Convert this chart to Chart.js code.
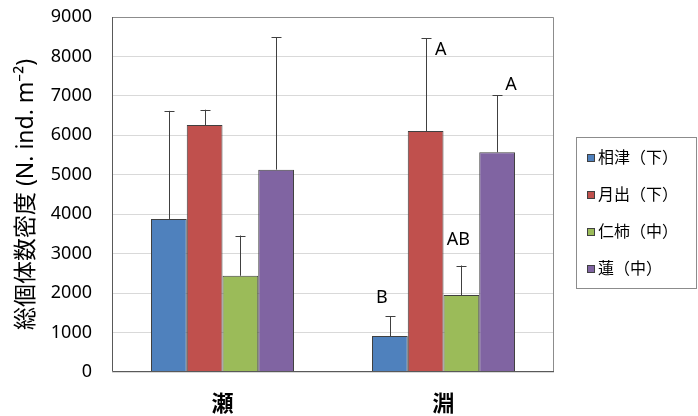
<!DOCTYPE html>
<html>
<head>
<meta charset="utf-8">
<script src="https://cdn.jsdelivr.net/npm/chart.js@4"></script>
<style>
  html, body { margin: 0; padding: 0; background: #fff; }
  #wrap { width: 698px; height: 416px; }
</style>
</head>
<body>
<div id="wrap"><canvas id="chart" width="698" height="416"></canvas></div>
<script>
// данные (читаются с картинки)
const categories = ['瀬', '淵'];
const seriesNames = ['相津（下）', '月出（下）', '仁柿（中）', '蓮（中）'];
const aizu    = [3880, 910];
const tsukide = [6260, 6110];
const nigaki  = [2440, 1950];
const hasu    = [5130, 5570];
// верхняя ошибка (SD)
const aizuErr    = [2740, 510];
const tsukideErr = [390, 2350];
const nigakiErr  = [1020, 750];
const hasuErr    = [3360, 1450];
// буквы значимости
const aizuSig    = ['', 'B'];
const tsukideSig = ['', 'A'];
const nigakiSig  = ['', 'AB'];
const hasuSig    = ['', 'A'];
const yTicks = [0, 1000, 2000, 3000, 4000, 5000, 6000, 7000, 8000, 9000];

const colors = ['#4f81bd', '#c0504d', '#9bbb59', '#8064a2'];
const values = [aizu, tsukide, nigaki, hasu];
const errors = [aizuErr, tsukideErr, nigakiErr, hasuErr];
const letters = [aizuSig, tsukideSig, nigakiSig, hasuSig];
// смещение букв от верха планки (px), как на оригинале
const letterShift = [[-8, -18], [15, 12], [-3, -26], [14, -10]];
const FONT = '"Noto Sans", "Noto Sans CJK JP", sans-serif';

const extras = {
  id: 'extras',
  afterDatasetsDraw(chart) {
    const ctx = chart.ctx;
    const y = chart.scales.y;
    const a = chart.chartArea;
    ctx.save();
    // рамка области графика
    ctx.lineWidth = 1;
    ctx.strokeStyle = '#8c8c8c';
    ctx.beginPath();
    ctx.moveTo(a.left, a.top + 0.5); ctx.lineTo(a.right - 0.5, a.top + 0.5); ctx.lineTo(a.right - 0.5, a.bottom);
    ctx.stroke();
    ctx.strokeStyle = '#595959';
    ctx.beginPath();
    ctx.moveTo(a.left + 0.5, a.top); ctx.lineTo(a.left + 0.5, a.bottom - 0.5); ctx.lineTo(a.right, a.bottom - 0.5);
    ctx.stroke();

    // планки погрешностей и буквы
    values.forEach((vals, d) => {
      const meta = chart.getDatasetMeta(d);
      meta.data.forEach((bar, i) => {
        const x = Math.round(bar.x) + 0.5;
        const top = y.getPixelForValue(vals[i] + errors[d][i]);
        ctx.strokeStyle = '#404040';
        ctx.beginPath();
        ctx.moveTo(x, bar.y); ctx.lineTo(x, top);
        ctx.moveTo(x - 5, Math.round(top) + 0.5); ctx.lineTo(x + 5, Math.round(top) + 0.5);
        ctx.stroke();
        const t = letters[d][i];
        if (t) {
          ctx.fillStyle = '#000';
          ctx.font = '18px ' + FONT;
          ctx.textAlign = 'center';
          ctx.textBaseline = 'middle';
          ctx.fillText(t, bar.x + letterShift[d][0], top + letterShift[d][1]);
        }
      });
    });

    // легенда
    const lx = 576, ly = 137, lw = 121, lh = 151;
    ctx.strokeStyle = '#8c8c8c';
    ctx.strokeRect(lx + 0.5, ly + 0.5, lw - 1, lh);
    ctx.font = '16px ' + FONT;
    ctx.textAlign = 'left';
    ctx.textBaseline = 'middle';
    seriesNames.forEach((name, d) => {
      const cy = 158 + d * 37;
      ctx.fillStyle = colors[d];
      ctx.fillRect(587, cy - 4, 7, 7);
      ctx.strokeStyle = '#404040';
      ctx.strokeRect(587.5, cy - 3.5, 7, 7);
      ctx.fillStyle = '#000';
      ctx.fillText(name, 598, cy);
    });
    ctx.restore();
  }
};

new Chart(document.getElementById('chart'), {
  type: 'bar',
  data: {
    labels: categories,
    datasets: seriesNames.map((name, d) => ({
      label: name,
      data: values[d],
      backgroundColor: colors[d],
      borderColor: '#404040',
      borderWidth: 1,
      categoryPercentage: 0.647,
      barPercentage: 1
    }))
  },
  options: {
    responsive: false,
    animation: false,
    layout: { padding: { top: 17, right: 144, left: 0, bottom: 0 } },
    plugins: { legend: { display: false }, tooltip: { enabled: false } },
    scales: {
      x: {
        grid: { display: false, drawTicks: false },
        border: { display: false },
        ticks: { color: '#000', padding: 20, font: { family: FONT, size: 22, weight: 'bold' } },
        afterFit(axis) { axis.height = 44; }
      },
      y: {
        min: 0,
        max: 9000,
        afterBuildTicks(axis) { axis.ticks = yTicks.map(v => ({ value: v })); },
        grid: { color: '#d9d9d9', drawTicks: false },
        border: { display: false },
        ticks: {
          color: '#000', padding: 20, font: { family: FONT, size: 18 },
          callback: v => String(v)
        },
        title: {
          display: true,
          text: '総個体数密度 (N. ind. m⁻²)',
          color: '#000',
          font: { family: FONT, size: 23 },
          padding: { top: 13, bottom: 0 }
        },
        afterFit(axis) {
          axis.width = 112;
          axis.paddingTop = 0;
          axis.paddingBottom = 0;
        }
      }
    }
  },
  plugins: [extras]
});
</script>
</body>
</html>
